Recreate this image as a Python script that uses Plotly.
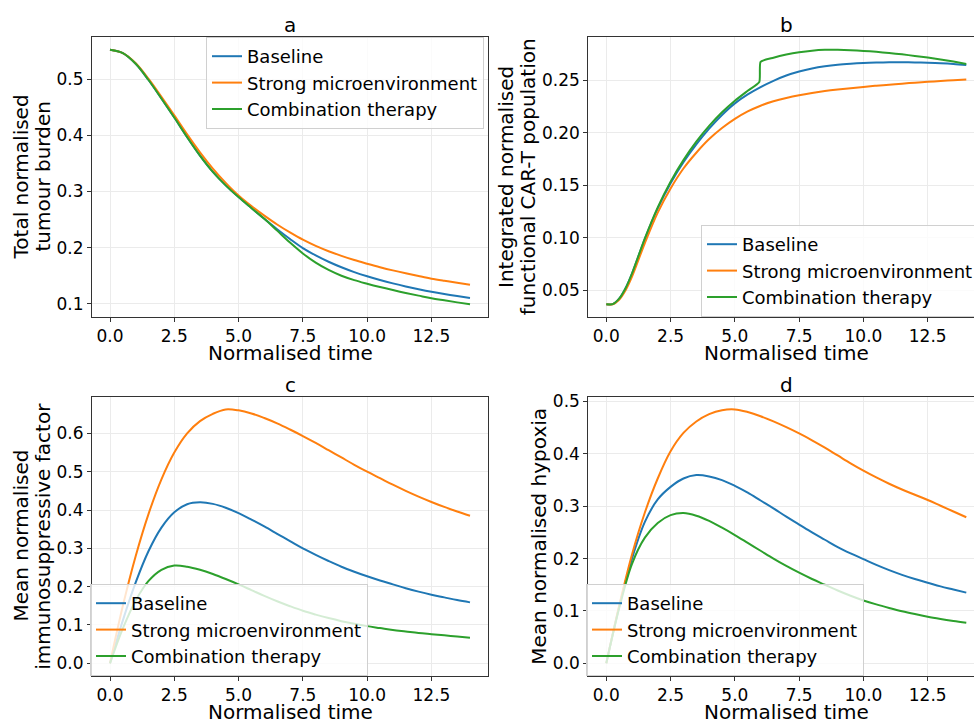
import plotly.graph_objects as go

# ---------------- data ----------------
T = [0.0, 0.5, 1.0, 1.5, 2.0, 2.5, 3.0, 3.5, 4.0, 4.5, 5.0, 5.5, 6.0, 6.5, 7.0,
     7.5, 8.0, 8.5, 9.0, 9.5, 10.0, 10.5, 11.0, 11.5, 12.0, 12.5, 13.0, 13.5, 14.0]
T_B = [0.0, 0.25, 0.5, 0.75, 1.0, 1.5, 2.0, 2.5, 3.0, 3.5, 4.0, 4.5, 5.0, 5.5, 6.0, 6.5, 7.0,
       7.5, 8.0, 8.5, 9.0, 9.5, 10.0, 10.5, 11.0, 11.5, 12.0, 12.5, 13.0, 13.5, 14.0]
T_B_JUMP = [0.0, 0.25, 0.5, 0.75, 1.0, 1.5, 2.0, 2.5, 3.0, 3.5, 4.0, 4.5, 5.0, 5.5, 5.95, 6.0,
            6.5, 7.0, 7.5, 8.0, 8.5, 9.0, 9.5, 10.0, 10.5, 11.0, 11.5, 12.0, 12.5, 13.0, 13.5, 14.0]

series_names = ["Baseline", "Strong microenvironment", "Combination therapy"]
series_colors = ["#1f77b4", "#ff7f0e", "#2ca02c"]

# a: total normalised tumour burden
a_baseline = [0.553, 0.547, 0.528, 0.499, 0.466, 0.432, 0.397, 0.364, 0.335, 0.311, 0.290,
              0.2705, 0.2513, 0.2328, 0.2153, 0.1990, 0.1860, 0.1747, 0.1648, 0.1561, 0.1487,
              0.1421, 0.1361, 0.1306, 0.1256, 0.1210, 0.1170, 0.1134, 0.1100]
a_strong = [0.553, 0.547, 0.529, 0.501, 0.469, 0.436, 0.402, 0.370, 0.341, 0.3155, 0.2929,
            0.2740, 0.2570, 0.2412, 0.2270, 0.2140, 0.2030, 0.1935, 0.1852, 0.1777, 0.1712,
            0.1650, 0.1593, 0.1541, 0.1492, 0.1445, 0.1407, 0.1372, 0.1338]
a_combo = [0.553, 0.547, 0.528, 0.499, 0.466, 0.432, 0.397, 0.364, 0.335, 0.311, 0.290,
           0.2705, 0.2513, 0.2302, 0.2090, 0.1895, 0.1730, 0.1600, 0.1497, 0.1418, 0.1354,
           0.1295, 0.1241, 0.1190, 0.1142, 0.1095, 0.1058, 0.1022, 0.0988]

# b: integrated normalised functional CAR-T population
b_baseline = [0.0367, 0.0368, 0.042, 0.052, 0.066, 0.099, 0.128, 0.152, 0.172, 0.189, 0.204,
              0.217, 0.228, 0.2365, 0.2435, 0.2495, 0.2545, 0.2583, 0.2612, 0.2633, 0.2648,
              0.2658, 0.2665, 0.2669, 0.2671, 0.2671, 0.2670, 0.2667, 0.2662, 0.2655, 0.2645]
b_strong = [0.0367, 0.0367, 0.041, 0.050, 0.063, 0.095, 0.124, 0.147, 0.166, 0.181, 0.194,
            0.2045, 0.2132, 0.2203, 0.2258, 0.2300, 0.2332, 0.2358, 0.2379, 0.2397, 0.2412,
            0.2425, 0.2437, 0.2448, 0.2458, 0.2468, 0.2477, 0.2485, 0.2493, 0.2501, 0.2508]
b_combo = [0.0367, 0.0368, 0.042, 0.052, 0.066, 0.0995, 0.1290, 0.1535, 0.1740, 0.1915, 0.2065,
           0.2195, 0.2305, 0.2400, 0.2484, 0.2676, 0.2715, 0.2745, 0.2767, 0.2782, 0.2790,
           0.2791, 0.2787, 0.2780, 0.2771, 0.2760, 0.2747, 0.2732, 0.2716, 0.2698, 0.2678, 0.2656]

# c: mean normalised immunosuppressive factor
c_baseline = [0.0, 0.112, 0.211, 0.293, 0.354, 0.394, 0.415, 0.420, 0.416, 0.406, 0.392,
              0.375, 0.357, 0.338, 0.319, 0.300, 0.283, 0.267, 0.252, 0.239, 0.227,
              0.216, 0.206, 0.196, 0.187, 0.179, 0.172, 0.165, 0.159]
c_strong = [0.0, 0.150, 0.280, 0.390, 0.480, 0.550, 0.600, 0.632, 0.651, 0.6625, 0.660,
            0.652, 0.640, 0.626, 0.610, 0.593, 0.575, 0.556, 0.537, 0.518, 0.500,
            0.483, 0.466, 0.450, 0.435, 0.421, 0.408, 0.396, 0.385]
c_combo = [0.0, 0.091, 0.164, 0.215, 0.244, 0.255, 0.252, 0.244, 0.233, 0.220, 0.206,
           0.191, 0.176, 0.162, 0.149, 0.137, 0.127, 0.118, 0.110, 0.103, 0.097,
           0.092, 0.087, 0.083, 0.079, 0.076, 0.073, 0.070, 0.067]

# d: mean normalised hypoxia
d_baseline = [0.0, 0.108, 0.200, 0.270, 0.313, 0.337, 0.353, 0.3595, 0.357, 0.350, 0.339,
              0.326, 0.311, 0.296, 0.280, 0.265, 0.250, 0.236, 0.222, 0.210, 0.199,
              0.188, 0.178, 0.169, 0.161, 0.154, 0.147, 0.141, 0.135]
d_strong = [0.0, 0.110, 0.208, 0.288, 0.353, 0.405, 0.440, 0.462, 0.476, 0.4835, 0.4850,
            0.480, 0.472, 0.462, 0.451, 0.439, 0.426, 0.412, 0.397, 0.382, 0.368,
            0.355, 0.343, 0.332, 0.322, 0.312, 0.301, 0.290, 0.279]
d_combo = [0.0, 0.105, 0.190, 0.240, 0.268, 0.283, 0.287, 0.282, 0.272, 0.259, 0.245,
           0.230, 0.215, 0.200, 0.186, 0.173, 0.161, 0.150, 0.139, 0.129, 0.120,
           0.1125, 0.1058, 0.0995, 0.0940, 0.0890, 0.0847, 0.0808, 0.0774]

x_ticks = [0.0, 2.5, 5.0, 7.5, 10.0, 12.5]
panel_titles = ["a", "b", "c", "d"]
x_label = "Normalised time"
y_labels = [["Total normalised", "tumour burden"],
            ["Integrated normalised", "functional CAR-T population"],
            ["Mean normalised", "immunosuppressive factor"],
            ["Mean normalised hypoxia"]]
y_ticks = [[0.1, 0.2, 0.3, 0.4, 0.5],
           [0.05, 0.10, 0.15, 0.20, 0.25],
           [0.0, 0.1, 0.2, 0.3, 0.4, 0.5, 0.6],
           [0.0, 0.1, 0.2, 0.3, 0.4, 0.5]]
y_fmt = [".1f", ".2f", ".1f", ".1f"]

# ---------------- figure ----------------
W, H = 974, 720
FONT = "DejaVu Sans"

fig = go.Figure()

panels = [
    ((T, a_baseline), (T, a_strong), (T, a_combo)),
    ((T_B, b_baseline), (T_B, b_strong), (T_B_JUMP, b_combo)),
    ((T, c_baseline), (T, c_strong), (T, c_combo)),
    ((T, d_baseline), (T, d_strong), (T, d_combo)),
]
legend_ids = ["legend", "legend2", "legend3", "legend4"]
axis_ids = [("x", "y"), ("x2", "y2"), ("x3", "y3"), ("x4", "y4")]

for p, pdata in enumerate(panels):
    for k in range(3):
        xs, ys = pdata[k]
        smooth = 0.5 if (p == 1 and k == 2) else 1.0
        fig.add_trace(go.Scatter(
            x=xs, y=ys, mode="lines", name=series_names[k],
            line=dict(color=series_colors[k], width=2, shape="spline", smoothing=smooth),
            xaxis=axis_ids[p][0], yaxis=axis_ids[p][1], legend=legend_ids[p],
        ))

# pixel geometry of the plot areas
left_x = [92, 588.3, 92, 588.3]
right_x = [488, 974, 488, 974]
top_y = [37, 37, 396.7, 396.7]
bot_y = [317, 317, 676, 676]


def yrange(vals_list):
    lo = min(min(v) for v in vals_list)
    hi = max(max(v) for v in vals_list)
    m = (hi - lo) * 0.05
    return [lo - m, hi + m]


yr = [yrange([a_baseline, a_strong, a_combo]),
      yrange([b_baseline, b_strong, b_combo]),
      yrange([c_baseline, c_strong, c_combo]),
      yrange([d_baseline, d_strong, d_combo])]
xr = [[-0.7, 14.7], [-0.7, 14.3], [-0.7, 14.7], [-0.7, 14.3]]

axis_common = dict(
    showgrid=True, gridcolor="#ebebeb", gridwidth=1,
    showline=True, linecolor="#333333", linewidth=1,
    ticks="outside", ticklen=4, tickwidth=1, tickcolor="#333333",
    zeroline=False,
    tickfont=dict(family=FONT, size=17, color="#000000"),
)

layout_axes = {}
for p in range(4):
    xname = "xaxis" if p == 0 else f"xaxis{p+1}"
    yname = "yaxis" if p == 0 else f"yaxis{p+1}"
    xa = axis_ids[p][0]
    ya = axis_ids[p][1]
    layout_axes[xname] = dict(
        axis_common,
        domain=[left_x[p] / W, right_x[p] / W],
        range=xr[p], anchor=ya, mirror=True,
        tickvals=x_ticks, tickformat=".1f",
    )
    layout_axes[yname] = dict(
        axis_common,
        domain=[1 - bot_y[p] / H, 1 - top_y[p] / H],
        range=yr[p], anchor=xa, mirror=(p % 2 == 0),
        tickvals=y_ticks[p], tickformat=y_fmt[p],
    )

fig.update_layout(**layout_axes)

legend_common = dict(
    bgcolor="rgba(255,255,255,0.8)", bordercolor="#d0d0d0", borderwidth=1,
    font=dict(family=FONT, size=18, color="#000000"),
    itemwidth=30, tracegroupgap=0,
)
fig.update_layout(
    legend=dict(legend_common, x=484 / W, y=1 - 83 / H, xanchor="right", yanchor="middle"),
    legend2=dict(legend_common, x=701 / W, y=1 - 271 / H, xanchor="left", yanchor="middle"),
    legend3=dict(legend_common, x=90 / W, y=1 - 630 / H, xanchor="left", yanchor="middle"),
    legend4=dict(legend_common, x=586 / W, y=1 - 630 / H, xanchor="left", yanchor="middle"),
)

annotations = []
for p in range(4):
    cx = (left_x[p] + (488 if p % 2 == 0 else 588.3 + 396)) / 2
    # panel titles
    annotations.append(dict(
        text=panel_titles[p], x=cx / W, y=1 - (top_y[p] - 12) / H,
        xref="paper", yref="paper", xanchor="center", yanchor="middle",
        showarrow=False, font=dict(family=FONT, size=20, color="#000000"),
    ))
    # x titles
    annotations.append(dict(
        text=x_label, x=cx / W, y=1 - (bot_y[p] + 36) / H,
        xref="paper", yref="paper", xanchor="center", yanchor="middle",
        showarrow=False, font=dict(family=FONT, size=20, color="#000000"),
    ))

# y titles (one annotation per text line)
ylab_x = [[20.5, 42.5], [506, 528.3], [20.5, 42.8], [538.7]]
ylab_y = [177, 177, 536, 536]
for p in range(4):
    for j, line in enumerate(y_labels[p]):
        annotations.append(dict(
            text=line, x=ylab_x[p][j] / W, y=1 - ylab_y[p] / H,
            xref="paper", yref="paper", xanchor="center", yanchor="middle",
            textangle=-90, showarrow=False,
            font=dict(family=FONT, size=20, color="#000000"),
        ))

fig.update_layout(
    annotations=annotations,
    width=W, height=H,
    margin=dict(l=0, r=0, t=0, b=0, autoexpand=False),
    paper_bgcolor="white", plot_bgcolor="white",
    font=dict(family=FONT, color="#000000"),
    showlegend=True,
)

fig.write_html("out.html")
